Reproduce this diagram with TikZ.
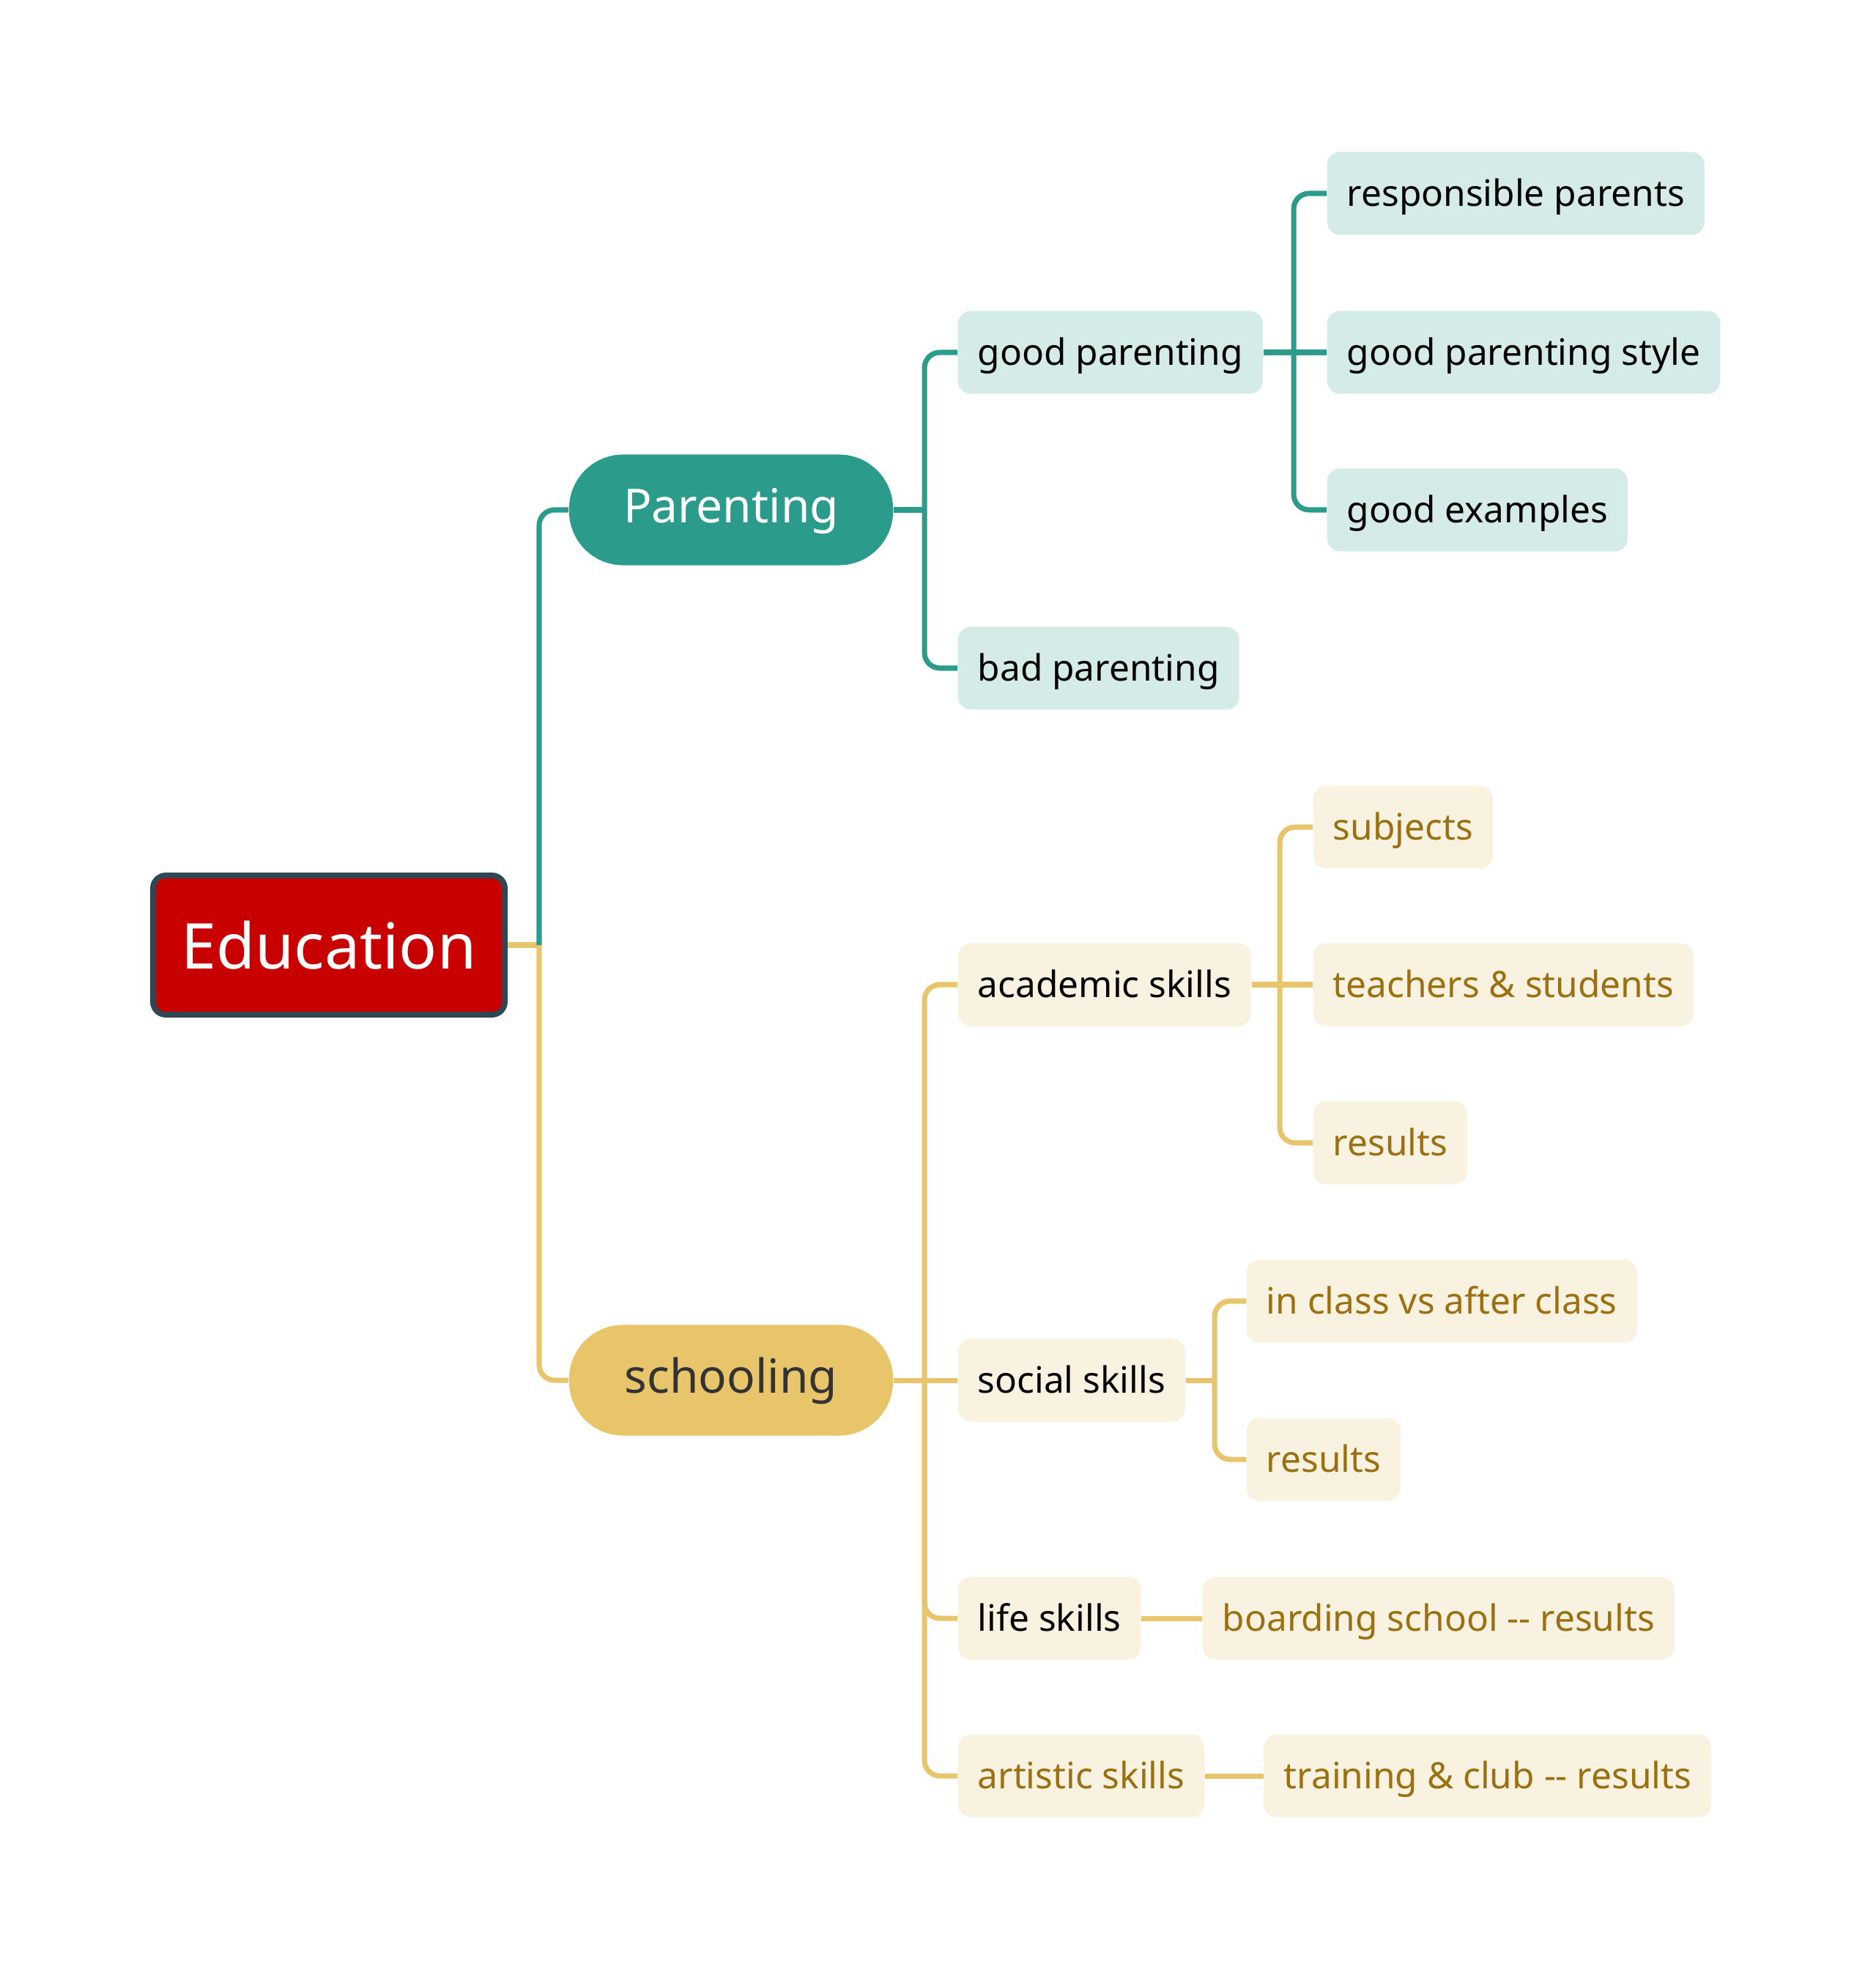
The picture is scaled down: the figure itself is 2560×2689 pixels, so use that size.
\documentclass[tikz,border=0pt]{standalone}
\usepackage{fontspec}
\setmainfont{Noto Sans}
\usepackage{tikz}
\usetikzlibrary{positioning}

\definecolor{eduRed}{HTML}{C80000}
\definecolor{eduEdge}{HTML}{2E4753}
\definecolor{parTeal}{HTML}{2B9C8C}
\definecolor{parLight}{HTML}{D5EBE8}
\definecolor{schGold}{HTML}{E8C46A}
\definecolor{schLight}{HTML}{FAF2E1}
\definecolor{schText}{HTML}{9A7010}

\begin{document}
\begin{tikzpicture}[x=0.01cm,y=-0.01cm]

\tikzset{root/.style={draw=eduEdge, line width=2.2pt, fill=eduRed, text=white,
            rounded corners=5pt, minimum width=4.8cm, minimum height=1.9cm,
            font=\fontsize{24.5}{29}\selectfont},
         mainbox/.style={minimum width=4.42cm, minimum height=1.51cm,
            rounded corners=21pt, text depth=0.6ex, text height=2.5ex,
            font=\fontsize{18.2}{22}\selectfont},
         subbox/.style={anchor=west, rounded corners=5pt, minimum height=1.13cm,
            inner xsep=0.27cm, text depth=0.55ex, text height=2.4ex,
            font=\fontsize{14.1}{17}\selectfont},
         tealsub/.style={subbox, fill=parLight, text=black},
         goldsub/.style={subbox, fill=schLight, text=black},
         goldleaf/.style={subbox, fill=schLight, text=schText},
         tealline/.style={draw=parTeal, line width=2pt, rounded corners=6pt},
         goldline/.style={draw=schGold, line width=2pt, rounded corners=6pt}}

\useasboundingbox (0,0) rectangle (2560,2689);

\node[root] (edu) at (449,1290) {Education};

\node[mainbox, fill=parTeal, text=white] (par) at (998,696) {Parenting};
\node[mainbox, fill=schGold, text=black!80] (sch) at (998,1884) {schooling};

\node[tealsub] (goodp) at (1307,481) {good parenting};
\node[tealsub] (badp) at (1307,912) {bad parenting};
\node[tealsub] (resp) at (1811,264) {responsible parents};
\node[tealsub] (style) at (1811,481) {good parenting style};
\node[tealsub] (exam) at (1811,696) {good examples};

\node[goldsub] (acad) at (1307,1344) {academic skills};
\node[goldsub] (soc) at (1307,1884) {social skills};
\node[goldsub] (life) at (1307,2209) {life skills};
\node[goldleaf] (art) at (1307,2424) {artistic skills};

\node[goldleaf] (subj) at (1792,1129) {subjects};
\node[goldleaf] (teach) at (1792,1344) {teachers \& students};
\node[goldleaf] (res1) at (1792,1560) {results};
\node[goldleaf] (incl) at (1701,1776) {in class vs after class};
\node[goldleaf] (res2) at (1701,1992) {results};
\node[goldleaf] (board) at (1641,2209) {boarding school -{}- results};
\node[goldleaf] (train) at (1725,2424) {training \& club -{}- results};

\coordinate (eSp) at (736,1290);
\coordinate (pSp) at (1262,696);
\coordinate (gpSp) at (1766,481);
\coordinate (sSp) at (1262,1884);
\coordinate (aSp) at (1747,1344);
\coordinate (soSp) at (1658,1884);

\draw[goldline] (edu.east) -- (eSp);
\draw[tealline] (eSp) |- (par.west);
\draw[goldline] (eSp) |- (sch.west);

\draw[tealline] (par.east) -- (pSp);
\foreach \c in {goodp,badp}
  \draw[tealline] (pSp) |- (\c.west);
\draw[tealline] (goodp.east) -- (style.west);
\foreach \c in {resp,exam}
  \draw[tealline] (gpSp) |- (\c.west);

\draw[goldline] (sch.east) -- (soc.west);
\foreach \c in {acad,life,art}
  \draw[goldline] (sSp) |- (\c.west);
\draw[goldline] (acad.east) -- (teach.west);
\foreach \c in {subj,res1}
  \draw[goldline] (aSp) |- (\c.west);
\draw[goldline] (soc.east) -- (soSp);
\foreach \c in {incl,res2}
  \draw[goldline] (soSp) |- (\c.west);
\draw[goldline] (life.east) -- (board.west);
\draw[goldline] (art.east) -- (train.west);

\end{tikzpicture}
\end{document}
